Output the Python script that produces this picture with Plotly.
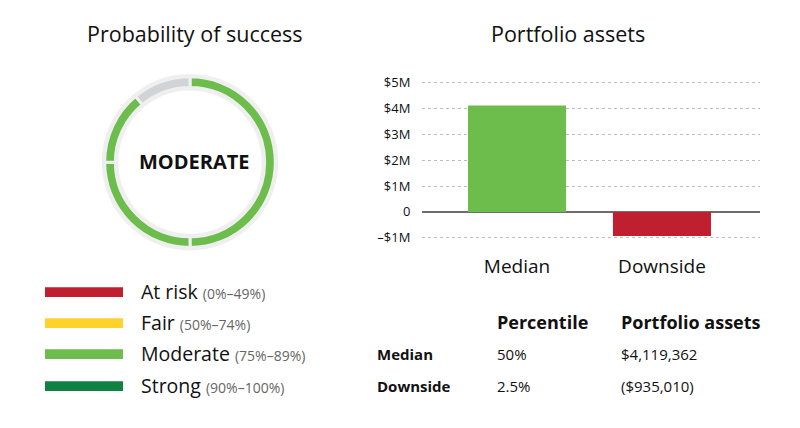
import plotly.graph_objects as go

W, H = 800, 428

# ---------------- data ----------------
ring_labels = ["Moderate A", "Moderate B", "Moderate C", "Remaining"]
ring_values = [50, 25, 14, 11]          # percent of circle (89% success)
ring_colors = ["#6cbd4b", "#6cbd4b", "#6cbd4b", "#d1d3d4"]
rating_text = "MODERATE"

bar_categories = ["Median", "Downside"]
bar_values = [4119362, -935010]
bar_colors = ["#6cbd4b", "#c01f2f"]

y_tickvals = [-1e6, 0, 1e6, 2e6, 3e6, 4e6, 5e6]
y_ticktext = ["\u2013$1M", "0", "$1M", "$2M", "$3M", "$4M", "$5M"]

legend_names = ["At risk", "Fair", "Moderate", "Strong"]
legend_ranges = ["(0%\u201349%)", "(50%\u201374%)", "(75%\u201389%)", "(90%\u2013100%)"]
legend_colors = ["#c01f2f", "#fdd22b", "#6cbd4b", "#0f8241"]

table_rows = ["Median", "Downside"]
table_percentile = ["50%", "2.5%"]
table_assets = ["$4,119,362", "($935,010)"]

FONT = "Open Sans"
TXT = "#111111"
RING_BG = "#efefef"


def px(x):
    return x / W


def py(y):
    return 1 - y / H


fig = go.Figure()

# background grey ring
cx, cy = 190, 160
fig.add_trace(go.Pie(
    values=[1], marker=dict(colors=[RING_BG], line=dict(width=0)),
    hole=74 / 91, sort=False, textinfo="none", hoverinfo="skip", showlegend=False,
    domain=dict(x=[px(cx - 91), px(cx + 91)], y=[py(cy + 91), py(cy - 91)]),
))
# coloured ring
fig.add_trace(go.Pie(
    labels=ring_labels, values=ring_values,
    marker=dict(colors=ring_colors, line=dict(color=RING_BG, width=3)),
    hole=77 / 88, sort=False, direction="clockwise", rotation=0,
    textinfo="none", hoverinfo="skip", showlegend=False,
    domain=dict(x=[px(cx - 88), px(cx + 88)], y=[py(cy + 88), py(cy - 88)]),
))

# bars
fig.add_trace(go.Bar(
    x=bar_categories, y=bar_values, marker=dict(color=bar_colors, line=dict(width=0)),
    width=0.676, showlegend=False, hoverinfo="skip",
))

plot_l, plot_r = 422, 760
y_top, y_bot = 78, 238   # pixels of $5M and -$1M
ppm = (y_bot - y_top) / 6.0
pad = 0.08
dom_top = y_top - pad * ppm
dom_bot = y_bot + pad * ppm

fig.update_layout(
    width=W, height=H,
    margin=dict(l=0, r=0, t=0, b=0),
    paper_bgcolor="white", plot_bgcolor="white",
    font=dict(family=FONT, color=TXT),
    xaxis=dict(
        domain=[px(plot_l), px(plot_r)], type="category",
        range=[-0.655, 1.676], showgrid=False, showline=False, zeroline=False,
        ticks="outside", ticklen=9, tickcolor="rgba(0,0,0,0)",
        tickfont=dict(size=19, color=TXT, family=FONT),
    ),
    yaxis=dict(
        domain=[py(dom_bot), py(dom_top)],
        range=[-1e6 - pad * 1e6, 5e6 + pad * 1e6],
        tickvals=y_tickvals, ticktext=y_ticktext,
        tickfont=dict(size=13, color=TXT, family=FONT),
        ticks="outside", ticklen=8, tickcolor="rgba(0,0,0,0)",
        showgrid=True, gridcolor="#bdbdbd", griddash="dot", gridwidth=1,
        zeroline=True, zerolinecolor="#6d6d6d", zerolinewidth=1.5,
        showline=False,
    ),
)


def note(x, y, text, size, anchor="left", color=TXT):
    return dict(x=px(x), y=py(y), xref="paper", yref="paper", text=text,
                showarrow=False, xanchor=anchor, yanchor="middle",
                font=dict(size=size, color=color, family=FONT))


ann = []
ann.append(note(195, 27, "Probability of success", 21.5, "center"))
ann.append(note(568, 27, "Portfolio assets", 21.5, "center"))
ann.append(note(cx + 4, cy - 1, "<b>" + rating_text + "</b>", 20, "center", "#111"))

shapes = []
legend_y = [294, 326, 358, 391]
for name, rng, col, yy in zip(legend_names, legend_ranges, legend_colors, legend_y):
    shapes.append(dict(type="rect", xref="paper", yref="paper",
                       x0=px(45), x1=px(123), y0=py(yy + 5), y1=py(yy - 5),
                       fillcolor=col, line=dict(width=0)))
    ann.append(note(139, yy - 1, name + " <span style='font-size:14px;color:#666'>" + rng + "</span>", 19.5))

ann.append(note(495, 325, "<b>Percentile</b>", 18))
ann.append(note(619, 325, "<b>Portfolio assets</b>", 18))
for r, p, a, yy in zip(table_rows, table_percentile, table_assets, [358, 391]):
    ann.append(note(375, yy, "<b>" + r + "</b>", 15))
    ann.append(note(495, yy, p, 15))
    ann.append(note(619, yy, a, 15))

fig.update_layout(annotations=ann, shapes=shapes)
fig.write_html("out.html", config={"displayModeBar": False},
               post_script="document.body.style.margin='0';document.body.style.overflow='hidden';")
